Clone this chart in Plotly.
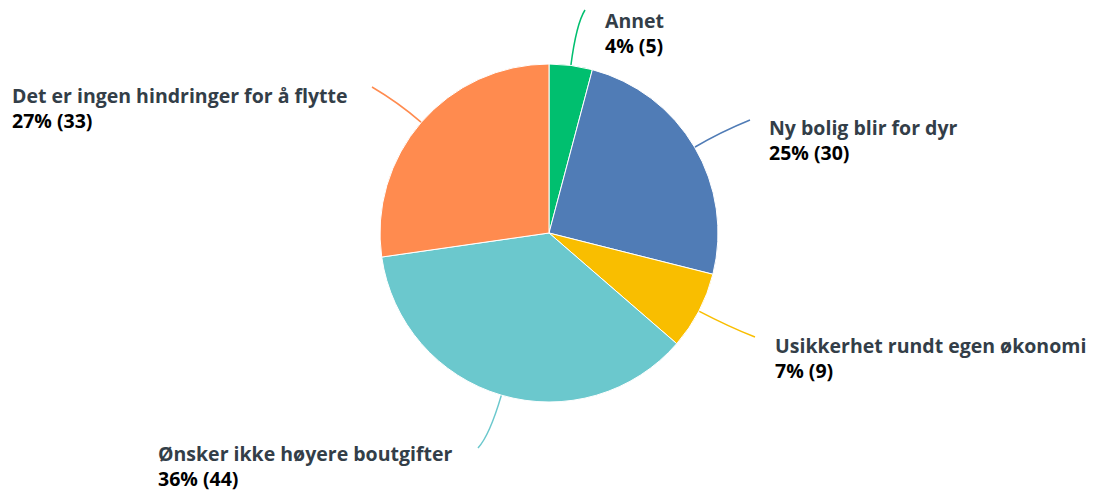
import math
import plotly.graph_objects as go

labels = ["Annet", "Ny bolig blir for dyr", "Usikkerhet rundt egen økonomi",
          "Ønsker ikke høyere boutgifter", "Det er ingen hindringer for å flytte"]
values = [5, 30, 9, 44, 33]
colors = ["#00BF6F", "#507CB6", "#F9BE00", "#6BC8CD", "#FF8B4F"]

# label layout (pixels): text left x, text vertical middle, leader end point, control distance
label_pos = [(604, 33), (768, 140), (774, 358), (157, 466), (11, 108)]
leader_end = [(585, 10), (750, 120), (755, 337), (478, 448), (372, 87)]
ctrl_dist = [42, 30, 35, 42, 30]

W, H = 1095, 495
OFF = 8  # page body offset
cx, cy, R = 549, 233, 169

def px(x):
    return (x - OFF) / W

def py(y):
    return 1 - (y - OFF) / H

fig = go.Figure(go.Pie(
    labels=labels, values=values, sort=False, direction="clockwise", rotation=0,
    marker=dict(colors=colors, line=dict(color="white", width=1)),
    textinfo="none", hoverinfo="label+percent+value",
    domain=dict(x=[px(cx - R), px(cx + R)], y=[py(cy + R), py(cy - R)]),
    showlegend=False,
))

total = sum(values)
shapes = []
annotations = []
cum = 0
for i, v in enumerate(values):
    mid = (cum + v / 2) / total
    cum += v
    ang = 2 * math.pi * mid
    dx, dy = math.sin(ang), -math.cos(ang)
    x0, y0 = cx + R * dx, cy + R * dy
    qx, qy = x0 + ctrl_dist[i] * dx, y0 + ctrl_dist[i] * dy
    x1, y1 = leader_end[i]
    shapes.append(dict(
        type="path", xref="paper", yref="paper",
        path=f"M {px(x0)},{py(y0)} Q {px(qx)},{py(qy)} {px(x1)},{py(y1)}",
        line=dict(color=colors[i], width=1.5), layer="below",
    ))
    pct = round(100 * v / total)
    tx, ty = label_pos[i]
    annotations.append(dict(
        xref="paper", yref="paper", x=px(tx), y=py(ty),
        xanchor="left", yanchor="middle", align="left", showarrow=False,
        borderpad=0,
        text=f"<span style='color:#333E48'><b>{labels[i]}</b></span><br>"
             f"<span style='color:#000000'><b>{pct}% ({v})</b></span>",
        font=dict(family="Open Sans", size=19.5),
    ))

fig.update_layout(
    width=W, height=H, margin=dict(l=0, r=0, t=0, b=0),
    paper_bgcolor="white", plot_bgcolor="white",
    shapes=shapes, annotations=annotations,
)
fig.write_html("out.html")
